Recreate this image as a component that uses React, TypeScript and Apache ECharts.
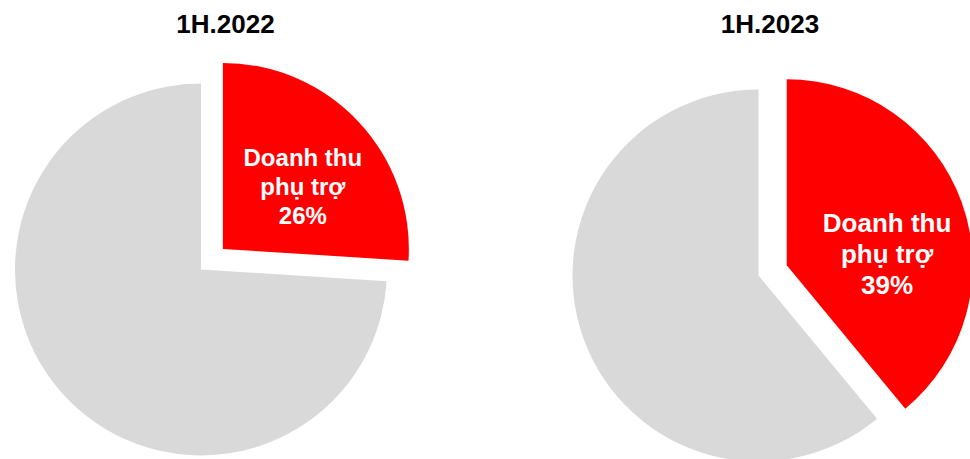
import React, { useEffect, useRef } from "react";
import * as echarts from "echarts";

const periods = ["1H.2022", "1H.2023"];
const categories = ["Doanh thu phụ trợ", "Khác"];
const ancillaryShare = [26, 39];
const otherShare = [74, 61];

const RED = "#ff0000";
const GRAY = "#d9d9d9";
const FONT = "Liberation Sans, Arial, sans-serif";

export default function App() {
  const ref = useRef<HTMLDivElement>(null);
  useEffect(() => {
    if (!ref.current) return;
    document.body.style.margin = "0";
    const chart = echarts.init(ref.current, null, { renderer: "svg" });
    const centers = [
      [201, 269.5],
      [758.5, 275.5],
    ];
    const titleX = [225.5, 770];
    const labelSize = [24, 26];
    const labelLH = [29, 31];
    const labelShift = [
      { dx: 10, dy: 3 },
      { dx: 10, dy: 21 },
    ];
    const series = periods.map((p, i) => ({
      type: "pie",
      name: p,
      center: centers[i],
      radius: 186,
      startAngle: 90,
      clockwise: true,
      selectedMode: "single",
      selectedOffset: 30,
      emphasis: { disabled: true },
      labelLine: { show: false },
      labelLayout: labelShift[i],
      data: [
        {
          name: categories[0],
          value: ancillaryShare[i],
          selected: true,
          itemStyle: { color: RED },
          label: {
            show: true,
            position: "inside",
            formatter: "Doanh thu\nphụ trợ\n{c}%",
            color: "#ffffff",
            fontFamily: FONT,
            fontWeight: "bold",
            fontSize: labelSize[i],
            lineHeight: labelLH[i],
            align: "center",
          },
        },
        {
          name: categories[1],
          value: otherShare[i],
          itemStyle: { color: GRAY },
          label: { show: false },
        },
      ],
    }));
    chart.setOption({
      animation: false,
      backgroundColor: "#ffffff",
      graphic: periods.map((p, i) => ({
        type: "text",
        x: titleX[i],
        y: 23.5,
        style: {
          text: p,
          fill: "#000000",
          font: `bold 26px ${FONT}`,
          textAlign: "center",
          textVerticalAlign: "middle",
        },
      })),
      series,
    });
    return () => chart.dispose();
  }, []);
  return (
    <div
      ref={ref}
      style={{ position: "absolute", left: 0, top: 0, width: 970, height: 459 }}
    />
  );
}
